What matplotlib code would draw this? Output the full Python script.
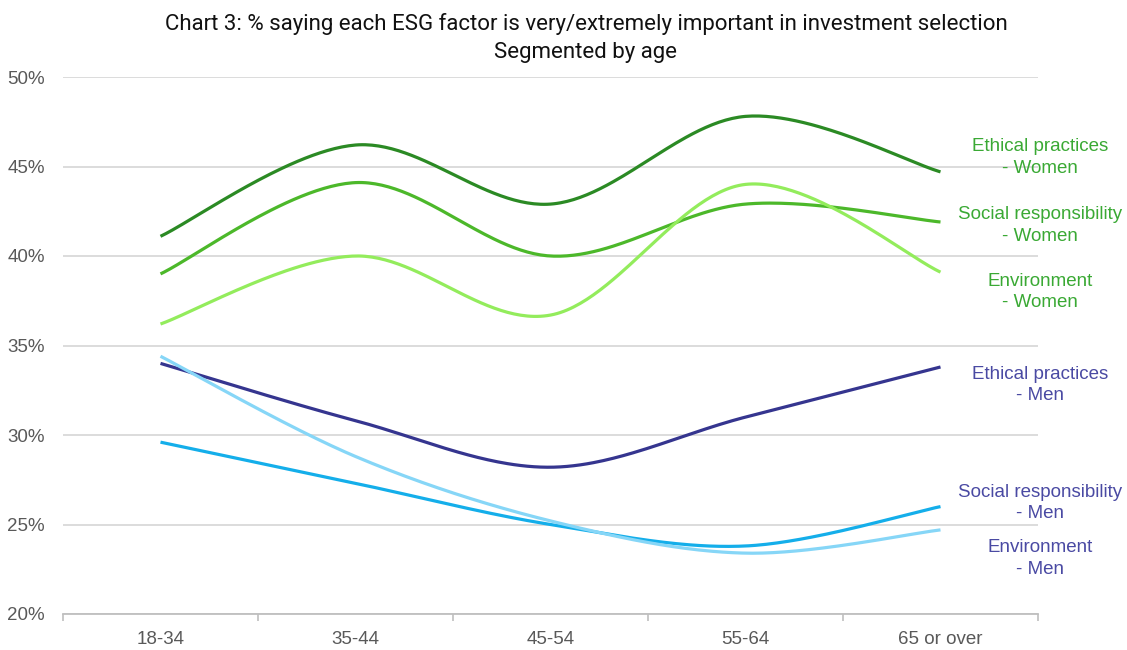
import numpy as np
import matplotlib
matplotlib.use("Agg")
import matplotlib.pyplot as plt
from matplotlib.ticker import FuncFormatter, FixedLocator

# Age bands on the x axis
ages = ["18-34", "35-44", "45-54", "55-64", "65 or over"]

# Share (%) saying each factor is very/extremely important
ethical_women = [41.1, 46.2, 42.9, 47.8, 44.7]
social_women = [39.0, 44.1, 40.0, 42.9, 41.9]
environment_women = [36.2, 40.0, 36.7, 44.0, 39.1]
ethical_men = [34.0, 30.8, 28.2, 31.0, 33.8]
social_men = [29.6, 27.3, 25.0, 23.8, 26.0]
environment_men = [34.4, 28.8, 25.2, 23.4, 24.7]

series_labels = [
    "Ethical practices\n- Women",
    "Social responsibility\n- Women",
    "Environment\n- Women",
    "Ethical practices\n- Men",
    "Social responsibility\n- Men",
    "Environment\n- Men",
]

line_colors = ["#2b8a24", "#4cb82a", "#93ec5c", "#35358f", "#14aeea", "#86d6f7"]
label_colors = ["#3aa934"] * 3 + ["#4a4aa3"] * 3
# label anchor (y value in %) for the right-hand annotations
label_y = [45.5, 41.7, 38.0, 32.8, 26.2, 23.1]


def smooth(xs, ys, n=60):
    """Catmull-Rom curve through the points (spreadsheet-style smoothed line)."""
    p = np.column_stack([xs, ys]).astype(float)
    p = np.vstack([p[0], p, p[-1]])
    out = []
    t = np.linspace(0, 1, n)
    for i in range(1, len(p) - 2):
        p0, p1, p2, p3 = p[i - 1], p[i], p[i + 1], p[i + 2]
        c1 = p1 + (p2 - p0) / 6.0
        c2 = p2 - (p3 - p1) / 6.0
        seg = ((1 - t) ** 3)[:, None] * p1 + (3 * (1 - t) ** 2 * t)[:, None] * c1 \
            + (3 * (1 - t) * t ** 2)[:, None] * c2 + (t ** 3)[:, None] * p2
        out.append(seg if i == 1 else seg[1:])
    seg = np.vstack(out)
    return seg[:, 0], seg[:, 1]


fig = plt.figure(figsize=(11.27, 6.5), dpi=100)
ax = fig.add_axes([63 / 1127, (650 - 614) / 650, (1038 - 63) / 1127, (614 - 77) / 650])

x = np.arange(len(ages))
all_series = [ethical_women, social_women, environment_women,
              ethical_men, social_men, environment_men]

for vals, col in zip(all_series, line_colors):
    sx, sy = smooth(x, vals)
    ax.plot(sx, sy, color=col, lw=2.3, solid_capstyle="butt", zorder=3, clip_on=False)

ax.set_xlim(-0.5, len(ages) - 0.5)
ax.set_ylim(20, 50)
ax.set_yticks(np.arange(20, 51, 5))
ax.yaxis.set_major_formatter(FuncFormatter(lambda v, _: f"{v:.0f}%"))
ax.grid(axis="y", color="#d9d9d9", lw=1.3, zorder=0)
ax.set_axisbelow(True)

ax.set_xticks(x)
ax.set_xticklabels(ages)
ax.xaxis.set_minor_locator(FixedLocator(np.arange(-0.5, len(ages), 1.0)))
ax.tick_params(axis="x", which="major", length=0, pad=12.5, labelsize=13.5, labelcolor="#595959")
ax.tick_params(axis="x", which="minor", length=5, color="#bfbfbf", width=1.2)
ax.tick_params(axis="y", length=0, pad=13, labelsize=13.5, labelcolor="#595959")
for lab in ax.get_xticklabels() + ax.get_yticklabels():
    lab.set_fontfamily(["Liberation Sans", "DejaVu Sans"])

for side in ["top", "right", "left"]:
    ax.spines[side].set_visible(False)
ax.spines["bottom"].set_color("#bfbfbf")
ax.spines["bottom"].set_linewidth(1.3)

for txt, yv, col in zip(series_labels, label_y, label_colors):
    ax.text(4.51, yv, txt, color=col, ha="center", va="center", fontsize=13.5,
            linespacing=1.32, family=["Liberation Sans", "DejaVu Sans"], clip_on=False)

fig.text(586 / 1127, 1 - 38 / 650,
         "Chart 3: % saying each ESG factor is very/extremely important in investment selection\nSegmented by age",
         ha="center", va="center", fontsize=16, linespacing=1.45, color="#111111",
         family=["Roboto", "DejaVu Sans"])

fig.savefig("out.png", dpi=100, facecolor="white")
